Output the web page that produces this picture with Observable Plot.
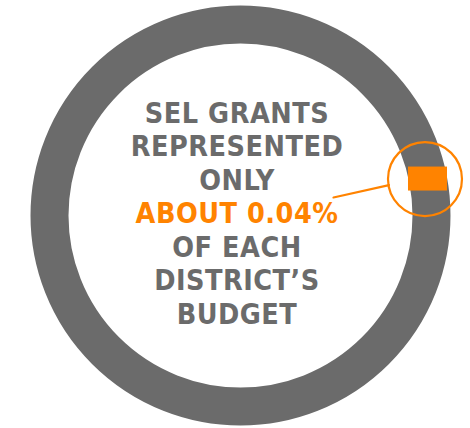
<!DOCTYPE html>
<html>
<head>
<meta charset="utf-8">
<script src="https://cdn.jsdelivr.net/npm/d3@7"></script>
<script src="https://cdn.jsdelivr.net/npm/@observablehq/plot@0.6"></script>
<style>
  html, body { margin: 0; padding: 0; background: #fff; }
  #chart svg { display: block; }
  #chart svg text { letter-spacing: 0.5px; }
</style>
</head>
<body>
<div id="chart"></div>
<script>
// ---- data ----
const segments = ["SEL grants", "Rest of district budget"];
const shares = [0.04, 99.96];               // percent of budget
const highlightAngle = [79];                // degrees clockwise from top where the SEL sliver is drawn (exaggerated)
const labelLines = ["SEL GRANTS", "REPRESENTED", "ONLY", "ABOUT 0.04%", "OF EACH", "DISTRICT\u2019S", "BUDGET"];
const labelHighlight = [false, false, false, true, false, false, false];

// ---- geometry (in chart units, ring outer radius = 210) ----
const outerR = 210, innerR = 172;
const midR = (outerR + innerR) / 2;
const gray = "#6b6b6b", orange = "#ff8300";

const rad = highlightAngle[0] * Math.PI / 180;
const hx = midR * Math.sin(rad), hy = midR * Math.cos(rad);
const sliver = [{x1: hx - 19.5, x2: hx + 19.5, y1: hy - 12, y2: hy + 12, segment: segments[0], share: shares[0]}];
const callout = [{x: hx - 3, y: hy, r: 37}];
const leader = [{x: 93, y: 18}, {x: callout[0].x - 36, y: callout[0].y - 6}];

const lineStep = 33.5;
const textRows = labelLines.map((t, i) => ({
  text: t,
  hi: labelHighlight[i],
  y: 93 - i * lineStep
}));

const chart = Plot.plot({
  width: 470,
  height: 428,
  margin: 0,
  x: {domain: [-240, 230], axis: null},
  y: {domain: [-213, 215], axis: null},
  marks: [
    Plot.dot([{x: 0, y: 0}], {x: "x", y: "y", r: midR, stroke: gray, strokeWidth: outerR - innerR, fill: "none"}),
    Plot.rect(sliver, {x1: "x1", x2: "x2", y1: "y1", y2: "y2", fill: orange}),
    Plot.dot(callout, {x: "x", y: "y", r: "r", stroke: orange, strokeWidth: 2.2, fill: "none"}),
    Plot.line(leader, {x: "x", y: "y", stroke: orange, strokeWidth: 2.2}),
    Plot.text(textRows, {
      x: () => -3.5, y: "y", text: "text",
      fill: d => d.hi ? orange : gray,
      fontSize: 28.5, fontWeight: "bold",
      fontFamily: "'DejaVu Sans Condensed', 'DejaVu Sans', sans-serif",
      textAnchor: "middle", lineAnchor: "bottom"
    })
  ],
  r: {type: "identity"}
});
document.getElementById("chart").append(chart);
</script>
</body>
</html>
